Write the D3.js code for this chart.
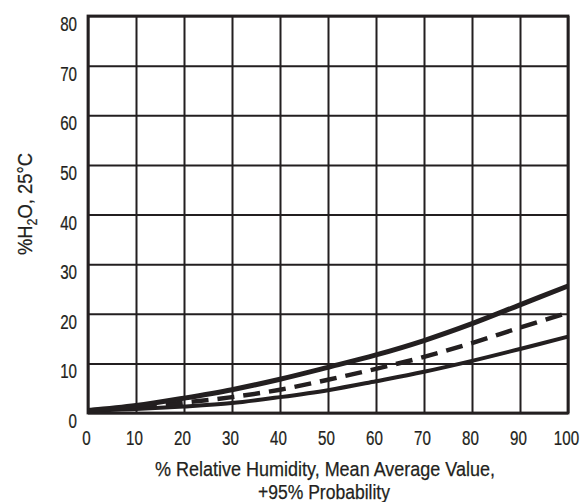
<!DOCTYPE html>
<html lang="en">
<head>
  <meta charset="UTF-8">
  <title>%H2O vs Relative Humidity</title>
  <script src="https://d3js.org/d3.v7.min.js"></script>
  <style>
    body { background: #fff; margin: 0; }
    svg { display: block; }
    text { font-family: "Liberation Sans", Arial, sans-serif; fill: #231f20; stroke: #231f20; stroke-width: 0.25; }
    .grid line { stroke: #231f20; stroke-width: 2; }
    .grid .domain { display: none; }
    .tick text { font-size: 20.5px; }
    .curve { fill: none; stroke: #231f20; stroke-linecap: butt; }
  </style>
</head>
<body>
  <svg></svg>

  <script>
const humidity = [0, 10, 20, 30, 40, 50, 60, 70, 80, 90, 100];
const upper  = [0.5, 1.5, 3.0, 4.7, 6.8, 9.2, 11.7, 14.6, 18.0, 21.8, 25.6];
const mean   = [0.5, 1.2, 2.1, 3.2, 4.7, 6.7, 8.9, 11.3, 14.1, 17.2, 20.2];
const lower  = [0.5, 0.8, 1.3, 2.0, 3.2, 4.6, 6.4, 8.3, 10.5, 12.9, 15.4];
const xTicks = [0, 10, 20, 30, 40, 50, 60, 70, 80, 90, 100];
const yTicks = [0, 10, 20, 30, 40, 50, 60, 70, 80];

const W = 581, H = 502;
const margin = { top: 16, right: 13, bottom: 89, left: 88 };
const width = W - margin.left - margin.right;   // 480
const height = H - margin.top - margin.bottom;  // 397
const squeeze = 0.74; // fake a condensed face

const svg = d3.select("svg").attr("width", W).attr("height", H);
const g = svg.append("g").attr("transform", `translate(${margin.left},${margin.top})`);

const x = d3.scaleLinear().domain([0, 100]).range([0, width]);
const y = d3.scaleLinear().domain([0, 80]).range([height, 0]);

// gridlines + tick labels
const xAxis = g.append("g")
  .attr("class", "grid")
  .attr("transform", `translate(0,${height})`)
  .call(d3.axisBottom(x).tickValues(xTicks).tickSize(-height).tickSizeOuter(0).tickPadding(0));
xAxis.selectAll("text")
  .attr("y", 32).attr("dy", 0).attr("x", -2 / squeeze)
  .attr("transform", `scale(${squeeze},1)`);

const yAxis = g.append("g")
  .attr("class", "grid")
  .call(d3.axisLeft(y).tickValues(yTicks).tickSize(-width).tickSizeOuter(0));
yAxis.selectAll("text")
  .attr("x", -11 / squeeze).attr("dy", 0).attr("y", 14.5)
  .attr("transform", `scale(${squeeze},1)`);

// frame
g.append("rect")
  .attr("width", width)
  .attr("height", height)
  .attr("fill", "none")
  .attr("stroke", "#231f20")
  .attr("stroke-width", 2.8);

// curves
const line = d3.line()
  .x((d, i) => x(humidity[i]))
  .y(d => y(d))
  .curve(d3.curveCatmullRom);

g.append("path").attr("class", "curve").attr("d", line(lower)).attr("stroke-width", 4);
g.append("path").attr("class", "curve").attr("d", line(mean))
  .attr("stroke-width", 4.5).attr("stroke-dasharray", "17,9");
g.append("path").attr("class", "curve").attr("d", line(upper)).attr("stroke-width", 5);

// axis titles
svg.append("text")
  .attr("text-anchor", "middle").attr("font-size", 20.5)
  .attr("x", 325).attr("y", 476)
  .attr("textLength", 340).attr("lengthAdjust", "spacingAndGlyphs")
  .text("% Relative Humidity, Mean Average Value,");
svg.append("text")
  .attr("text-anchor", "middle").attr("font-size", 20.5)
  .attr("x", 324).attr("y", 499)
  .attr("textLength", 132).attr("lengthAdjust", "spacingAndGlyphs")
  .text("+95% Probability");

const yt = svg.append("text")
  .attr("text-anchor", "middle")
  .attr("font-size", 20.5);
yt.append("tspan").text("%H");
yt.append("tspan").attr("font-size", 14).attr("dy", 5).text("2");
yt.append("tspan").attr("dy", -5).text("O, 25°C");
const ytLen = yt.node().getComputedTextLength();
yt.attr("transform", `translate(32,204) rotate(-90) scale(${102 / ytLen},1)`);
  </script>
</body>
</html>
